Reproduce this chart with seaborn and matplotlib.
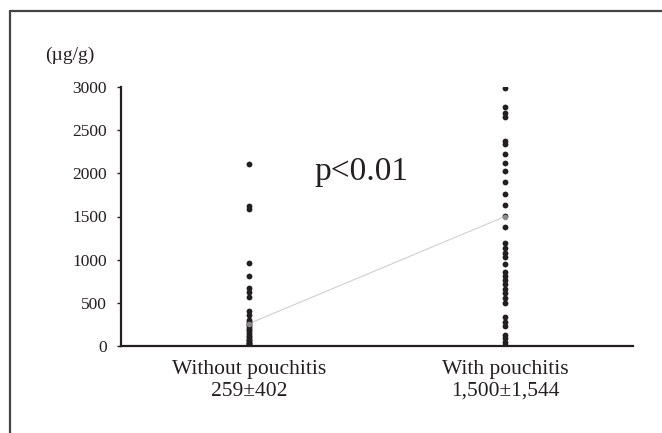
import pandas as pd
import matplotlib
matplotlib.use("Agg")
import matplotlib.pyplot as plt
from matplotlib.lines import Line2D
import seaborn as sns

# values (ug/g)
without_vals = [2110, 1620, 1590, 965, 805, 675, 620, 565, 410, 360,
                300, 280, 260, 240, 220, 200, 180, 160, 140, 120,
                100, 85, 70, 55, 40, 30, 20, 10, 5]
with_vals = [2985, 2770, 2700, 2655, 2375, 2345, 2220, 2115, 2025, 1895,
             1755, 1635, 1505, 1375, 1195, 1130, 1080, 1035, 945, 860,
             810, 765, 715, 655, 610, 550, 495, 330, 280, 230,
             125, 90, 50, 12]
groups = ["Without pouchitis", "With pouchitis"]
group_labels = ["Without pouchitis\n259±402", "With pouchitis\n1,500±1,544"]
means = [259, 1500]
yticks = [0, 500, 1000, 1500, 2000, 2500, 3000]

df = pd.DataFrame({
    "group": [groups[0]] * len(without_vals) + [groups[1]] * len(with_vals),
    "value": without_vals + with_vals,
})
mean_df = pd.DataFrame({"group": groups, "value": means})

sns.set_style("white")
plt.rcParams['font.family'] = ['Liberation Serif', 'DejaVu Serif']

fig = plt.figure(figsize=(6.62, 4.33), dpi=100)
ax = fig.add_axes([0.1828, 0.201, 0.7734, 0.598])

# line joining the group means
sns.lineplot(data=mean_df, x="group", y="value", color="#cfcfcf", linewidth=0.8,
             marker=None, sort=False, ax=ax, zorder=1)
sns.stripplot(data=df, x="group", y="value", order=groups, jitter=False,
              color="#231f20", size=4.2, linewidth=0, ax=ax, zorder=2)
sns.scatterplot(data=mean_df, x="group", y="value", color="#8a8a8a", s=16,
                linewidth=0, ax=ax, zorder=3)

ax.set_xlim(-0.5, 1.5)
ax.set_ylim(0, 3000)
ax.set_yticks(yticks)
ax.set_xticks([0, 1])
ax.set_xticklabels(group_labels, fontsize=15.5, color="#231f20", linespacing=1.2)
ax.tick_params(axis="y", left=True, labelsize=12.5, length=3, width=1, pad=7,
               colors="#231f20", direction="out")
ax.tick_params(axis="x", length=0, pad=10)
ax.set_xlabel("")
ax.set_ylabel("")
for side in ["top", "right"]:
    ax.spines[side].set_visible(False)
for side in ["left", "bottom"]:
    ax.spines[side].set_linewidth(1.6)
    ax.spines[side].set_color("#231f20")

fig.text(45 / 662, 1 - 55 / 433, "(µg/g)", fontsize=14, ha="left", va="center", color="#231f20")
ax.text(0.44, 2015, "p<0.01", fontsize=24, ha="center", va="center", color="#231f20")

# outer frame (top and left edges only)
fig.add_artist(Line2D([10 / 662, 10 / 662], [0, 1 - 11 / 433], transform=fig.transFigure,
                      color="#444444", linewidth=1.6))
fig.add_artist(Line2D([10 / 662, 1], [1 - 11 / 433, 1 - 11 / 433], transform=fig.transFigure,
                      color="#444444", linewidth=1.6))

fig.savefig("out.png", dpi=100)
